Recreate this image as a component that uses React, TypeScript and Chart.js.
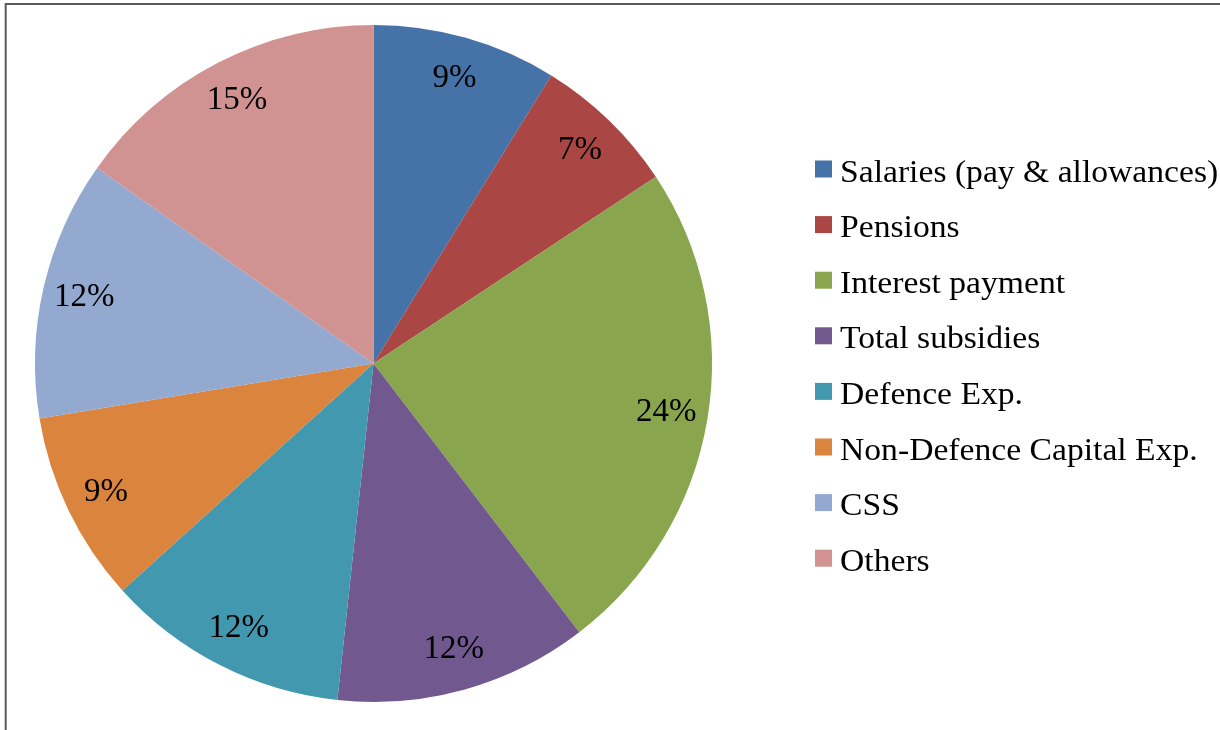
import React, { useEffect, useRef } from "react";
import { Chart, registerables } from "chart.js";

Chart.register(...registerables);

const categories = [
  "Salaries (pay & allowances)",
  "Pensions",
  "Interest payment",
  "Total subsidies",
  "Defence Exp.",
  "Non-Defence Capital Exp.",
  "CSS",
  "Others",
];
// shares (labels show them rounded)
const shares = [8.8, 6.9, 23.9, 12.1, 11.6, 9.1, 12.4, 15.2];
const sliceColors = [
  "#4572A7",
  "#AA4643",
  "#89A54E",
  "#71588F",
  "#4198AF",
  "#DB843D",
  "#93A9CF",
  "#D19392",
];

const FONT = '"Liberation Serif", "Times New Roman", serif';

const framePlugin = {
  id: "frame",
  beforeDraw(chart: any) {
    const ctx = chart.ctx;
    ctx.save();
    ctx.fillStyle = "#ffffff";
    ctx.fillRect(0, 0, chart.width, chart.height);
    ctx.strokeStyle = "#5a5a5a";
    ctx.lineWidth = 2;
    ctx.beginPath();
    ctx.moveTo(5.7, chart.height);
    ctx.lineTo(5.7, 4);
    ctx.lineTo(chart.width, 4);
    ctx.stroke();
    ctx.restore();
  },
};

const labelPlugin = {
  id: "sliceLabels",
  afterDatasetsDraw(chart: any) {
    const ctx = chart.ctx;
    const meta = chart.getDatasetMeta(0);
    const data = chart.data.datasets[0].data as number[];
    const total = data.reduce((a, b) => a + b, 0);
    ctx.save();
    ctx.font = `33px ${FONT}`;
    ctx.fillStyle = "#000000";
    ctx.textAlign = "center";
    ctx.textBaseline = "middle";
    meta.data.forEach((arc: any, i: number) => {
      const p = arc.getProps(["x", "y", "startAngle", "endAngle", "outerRadius"], true);
      const mid = (p.startAngle + p.endAngle) / 2;
      const r = p.outerRadius * 0.877;
      const pct = Math.round((data[i] / total) * 100);
      ctx.fillText(`${pct}%`, p.x + Math.cos(mid) * r, p.y + Math.sin(mid) * r);
    });
    ctx.restore();
  },
};

const legendPlugin = {
  id: "sideLegend",
  afterDraw(chart: any) {
    const ctx = chart.ctx;
    const labels = chart.data.labels as string[];
    const colors = chart.data.datasets[0].backgroundColor as string[];
    ctx.save();
    ctx.font = `31px ${FONT}`;
    ctx.textBaseline = "alphabetic";
    ctx.textAlign = "left";
    labels.forEach((lab, i) => {
      const step = i * 55.6;
      ctx.fillStyle = colors[i];
      ctx.fillRect(815, 160.5 + step, 17, 17);
      ctx.fillStyle = "#000000";
      ctx.save();
      ctx.translate(840, 181.5 + step);
      ctx.scale(1.085, 1);
      ctx.fillText(lab, 0, 0);
      ctx.restore();
    });
    ctx.restore();
  },
};

export default function App() {
  const ref = useRef<HTMLCanvasElement>(null);
  useEffect(() => {
    if (!ref.current) return;
    const chart = new Chart(ref.current, {
      type: "pie",
      data: {
        labels: categories,
        datasets: [
          {
            data: shares,
            backgroundColor: sliceColors,
            borderWidth: 0,
          },
        ],
      },
      options: {
        animation: false,
        responsive: false,
        maintainAspectRatio: false,
        devicePixelRatio: 1,
        layout: { padding: { left: 35, top: 25, right: 508, bottom: 28 } },
        plugins: {
          legend: { display: false },
          tooltip: { enabled: false },
        },
      },
      plugins: [framePlugin, labelPlugin, legendPlugin],
    });
    return () => chart.destroy();
  }, []);
  return (
    <div style={{ position: "fixed", left: 0, top: 0, width: 1220, height: 730 }}>
      <canvas ref={ref} width={1220} height={730} style={{ display: "block" }} />
    </div>
  );
}
